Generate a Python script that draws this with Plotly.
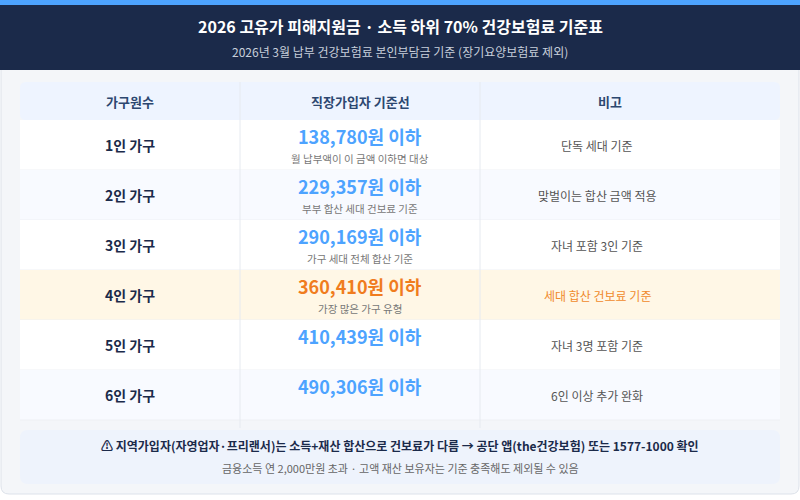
import plotly.graph_objects as go

households = ["1인 가구", "2인 가구", "3인 가구", "4인 가구", "5인 가구", "6인 가구"]
thresholds = [138780, 229357, 290169, 360410, 410439, 490306]
sub_notes = ["월 납부액이 이 금액 이하면 대상", "부부 합산 세대 건보료 기준", "가구 세대 전체 합산 기준",
             "가장 많은 가구 유형", "", ""]
remarks = ["단독 세대 기준", "맞벌이는 합산 금액 적용", "자녀 포함 3인 기준",
           "세대 합산 건보료 기준", "자녀 3명 포함 기준", "6인 이상 추가 완화"]
highlight_index = 3
headers = ["가구원수", "직장가입자 기준선", "비고"]

F = "Noto Sans CJK KR"
fig = go.Figure()
shapes = []
ann = []

def rect(x0, y0, x1, y1, fill, line=None):
    shapes.append(dict(type="rect", x0=x0, y0=y0, x1=x1, y1=y1, fillcolor=fill, layer="below",
                       line=dict(width=1 if line else 0, color=line or fill)))

def rrect(x0, y0, x1, y1, rad, fill, line=None):
    p = (f"M{x0+rad},{y0} L{x1-rad},{y0} Q{x1},{y0} {x1},{y0+rad} L{x1},{y1-rad} Q{x1},{y1} {x1-rad},{y1} "
         f"L{x0+rad},{y1} Q{x0},{y1} {x0},{y1-rad} L{x0},{y0+rad} Q{x0},{y0} {x0+rad},{y0} Z")
    shapes.append(dict(type="path", path=p, fillcolor=fill, layer="below",
                       line=dict(width=1 if line else 0, color=line or fill)))

def txt(x, y, t, size, color, bold=False):
    ann.append(dict(x=x, y=y, text=f"<b>{t}</b>" if bold else t, showarrow=False,
                    font=dict(family=F, size=size, color=color), xanchor="center", yanchor="middle"))

rrect(1, 1, 799, 494, 8, "#f4f6f9", "#dde2ea")
rect(0, 0, 800, 5, "#4da3ff")
rect(0, 5, 800, 70, "#1b2a4a")
txt(400, 26, "2026 고유가 피해지원금 · 소득 하위 70% 건강보험료 기준표", 16, "white", True)
txt(400, 51, "2026년 3월 납부 건강보험료 본인부담금 기준 (장기요양보험료 제외)", 12, "#c8cfdb")

rrect(20, 82, 780, 120, 6, "#eef4ff")
cols = [130, 360, 610]
for c, h in zip(cols, headers):
    txt(c, 101, h, 13, "#2c4770", True)

row_h = 50
for i, (hh, v, sn, rm) in enumerate(zip(households, thresholds, sub_notes, remarks)):
    y0 = 120 + i * row_h
    fill = "#fff7e6" if i == highlight_index else ("#ffffff" if i % 2 == 0 else "#f8faff")
    rect(20, y0, 780, y0 + row_h, fill)
    shapes.append(dict(type="line", x0=20, x1=780, y0=y0 + row_h, y1=y0 + row_h,
                       line=dict(color="#eef0f4", width=1), layer="below"))
    hl = i == highlight_index
    txt(130, y0 + 25, hh, 14, "#1b2a4a", True)
    txt(360, y0 + 16, f"{v:,}원 이하", 18, "#f07c1e" if hl else "#4da3ff", True)
    if sn:
        txt(360, y0 + 38, sn, 10.5, "#777777")
    txt(597, y0 + 25, rm, 12, "#f08a2c" if hl else "#555555")

for x in (240, 480):
    shapes.append(dict(type="line", x0=x, x1=x, y0=82, y1=428, line=dict(color="#e6eaf0", width=1), layer="below"))

rrect(20, 430, 780, 484, 8, "#eef3fc")
txt(400, 445, "⚠ 지역가입자(자영업자·프리랜서)는 소득+재산 합산으로 건보료가 다름 → 공단 앱(the건강보험) 또는 1577-1000 확인", 12, "#1b2a4a", True)
txt(400, 468, "금융소득 연 2,000만원 초과 · 고액 재산 보유자는 기준 충족해도 제외될 수 있음", 11, "#666666")

fig.update_layout(width=800, height=500, margin=dict(l=0, r=0, t=0, b=0),
                  paper_bgcolor="white", plot_bgcolor="white",
                  xaxis=dict(range=[0, 800], visible=False, fixedrange=True),
                  yaxis=dict(range=[500, 0], visible=False, fixedrange=True),
                  shapes=shapes, annotations=ann, showlegend=False)
fig.write_html("out.html", config={"displayModeBar": False},
               post_script="document.body.style.margin='0';document.body.style.overflow='hidden';")
